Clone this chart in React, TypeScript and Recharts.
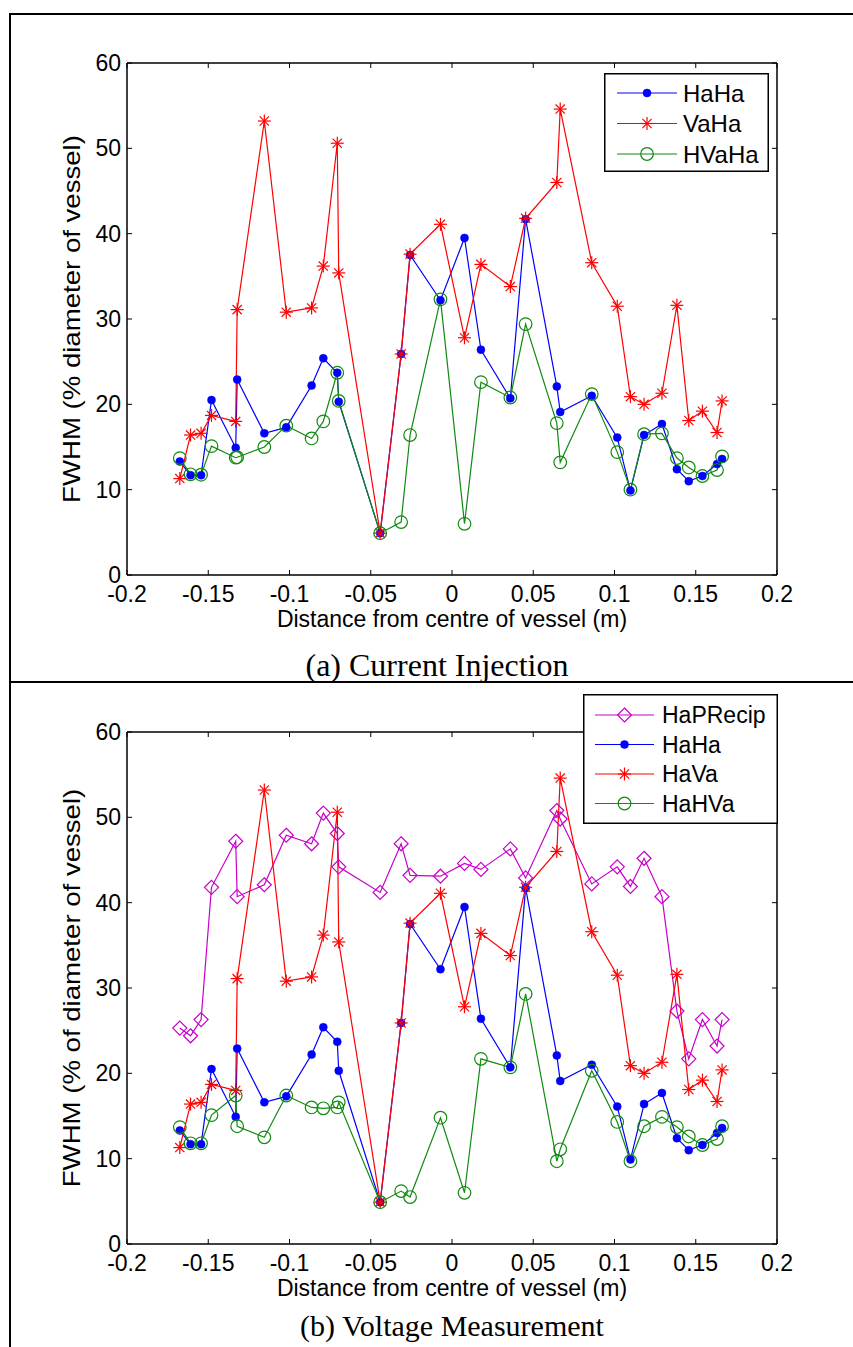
import React from 'react';
import { LineChart, Line, XAxis, YAxis, Legend } from 'recharts';

// electrode positions across the vessel (m)
const distance = [
  -0.1675, -0.1609, -0.1544, -0.148, -0.1331, -0.1322, -0.1155, -0.102, -0.0864, -0.0792, -0.0706,
  -0.0697, -0.0442, -0.0313, -0.0258, -0.0071, 0.0077, 0.0178, 0.0359, 0.0453, 0.0645, 0.0666, 0.086,
  0.1017, 0.1098, 0.1182, 0.1292, 0.1384, 0.1457, 0.1541, 0.1631, 0.1662,
];

// FWHM (% of vessel diameter) per reconstruction
const haHa = [
  13.3, 11.7, 11.7, 20.5, 14.9, 22.9, 16.6, 17.3, 22.2, 25.4, 23.7, 20.3, 4.9, 25.9, 37.5, 32.2,
  39.5, 26.4, 20.7, 41.7, 22.1, 19.1, 21.0, 16.1, 9.9, 16.4, 17.7, 12.4, 11.0, 11.6, 13.0, 13.6,
];
const vaHa = [
  11.3, 16.4, 16.6, 18.7, 18.0, 31.1, 53.2, 30.8, 31.3, 36.2, 50.6, 35.4, 4.9, 25.9, 37.6, 41.1,
  27.8, 36.4, 33.8, 41.8, 46.0, 54.6, 36.6, 31.5, 20.9, 20.0, 21.3, 31.6, 18.1, 19.2, 16.7, 20.4,
];
const hvaHa = [
  13.7, 11.8, 11.75, 15.1, 13.75, 13.8, 15.0, 17.5, 16.0, 18.0, 23.7, 20.4, 4.9, 6.2, 16.4, 32.3,
  6.0, 22.6, 20.8, 29.4, 17.8, 13.2, 21.2, 14.4, 10.0, 16.5, 16.6, 13.7, 12.6, 11.6, 12.3, 13.9,
];
const haPRecip = [
  25.3, 24.4, 26.3, 41.8, 47.2, 40.7, 42.1, 47.9, 46.9, 50.5, 48.1, 44.2, 41.2, 46.9, 43.2, 43.1,
  44.6, 43.9, 46.3, 42.9, 50.8, 49.8, 42.2, 44.2, 41.9, 45.2, 40.7, 27.3, 21.7, 26.3, 23.2, 26.3,
];
// HaHa / HaVa in panel (b) are the same measurements as HaHa / VaHa in (a)
const haVa = vaHa;
const haHVa = [
  13.7, 11.8, 11.8, 15.1, 17.4, 13.8, 12.5, 17.4, 16.0, 15.9, 16.0, 16.6, 4.9, 6.2, 5.5, 14.8,
  6.0, 21.7, 20.7, 29.3, 9.7, 11.1, 20.3, 14.3, 9.7, 13.8, 14.9, 13.7, 12.6, 11.6, 12.3, 13.8,
];

const xTicks = [-0.2, -0.15, -0.1, -0.05, 0, 0.05, 0.1, 0.15, 0.2];
const yTicks = [0, 10, 20, 30, 40, 50, 60];

const BLUE = '#0000ff';
const RED = '#ff0000';
const GREEN = '#108a10';
const MAGENTA = '#c800c8';
const SANS = '"Liberation Sans", Arial, Helvetica, sans-serif';
const SERIF = '"Liberation Serif", "Times New Roman", serif';
const FS = 23;
const TITLE_STRETCH = 1.2; // the exported y titles run long

type Pt = { cx: number; cy: number };

const Dot = ({ cx, cy }: Pt) => <circle cx={cx} cy={cy} r={4} fill={BLUE} stroke={BLUE} strokeWidth={0.5} />;
const Star = ({ cx, cy }: Pt) => {
  const a = 6.5;
  const b = 4.6;
  return (
    <g stroke={RED} strokeWidth={1.2}>
      <line x1={cx - a} y1={cy} x2={cx + a} y2={cy} />
      <line x1={cx} y1={cy - a} x2={cx} y2={cy + a} />
      <line x1={cx - b} y1={cy - b} x2={cx + b} y2={cy + b} />
      <line x1={cx - b} y1={cy + b} x2={cx + b} y2={cy - b} />
    </g>
  );
};
const Ring = ({ cx, cy }: Pt) => <circle cx={cx} cy={cy} r={6.3} fill="none" stroke={GREEN} strokeWidth={1.2} />;
const Diamond = ({ cx, cy }: Pt) => (
  <path
    d={`M${cx},${cy - 7} L${cx + 7},${cy} L${cx},${cy + 7} L${cx - 7},${cy} Z`}
    fill="none"
    stroke={MAGENTA}
    strokeWidth={1.2}
  />
);

type SeriesDef = { key: string; name: string; color: string; values: number[]; Marker: (p: Pt) => React.ReactElement };

const seriesA: SeriesDef[] = [
  { key: 'haHa', name: 'HaHa', color: BLUE, values: haHa, Marker: Dot },
  { key: 'vaHa', name: 'VaHa', color: RED, values: vaHa, Marker: Star },
  { key: 'hvaHa', name: 'HVaHa', color: GREEN, values: hvaHa, Marker: Ring },
];
const seriesB: SeriesDef[] = [
  { key: 'haPRecip', name: 'HaPRecip', color: MAGENTA, values: haPRecip, Marker: Diamond },
  { key: 'haHa', name: 'HaHa', color: BLUE, values: haHa, Marker: Dot },
  { key: 'haVa', name: 'HaVa', color: RED, values: haVa, Marker: Star },
  { key: 'haHVa', name: 'HaHVa', color: GREEN, values: haHVa, Marker: Ring },
];

type LegendBox = {
  left: number; top: number; width: number; height: number; fontSize: number;
  firstRow: number; rowGap: number; lineFrom: number; lineTo: number; textX: number;
};

const legendContent = (items: SeriesDef[], box: LegendBox) => () => (
  <svg width={box.width} height={box.height} style={{ display: 'block' }}>
    <rect x={0.75} y={0.75} width={box.width - 1.5} height={box.height - 1.5} fill="#fff" stroke="#000" strokeWidth={1.5} />
    {items.map((s, i) => {
      const y = box.firstRow + i * box.rowGap;
      const M = s.Marker;
      return (
        <g key={s.key}>
          <line x1={box.lineFrom} x2={box.lineTo} y1={y} y2={y} stroke={s.color} strokeWidth={1.2} />
          <M cx={(box.lineFrom + box.lineTo) / 2} cy={y} />
          <text x={box.textX} y={y} dominantBaseline="central" fontFamily={SANS} fontSize={box.fontSize} fill="#000">
            {s.name}
          </text>
        </g>
      );
    })}
  </svg>
);

const XTick = ({ x, y, payload }: any) => (
  <text x={x} y={y} dy="0.71em" textAnchor="middle" fontFamily={SANS} fontSize={FS} fill="#000">
    {String(payload.value)}
  </text>
);

// y title: centred on the plot's vertical middle, 72px in from the chart's left edge
const YTitle = ({ text, centreY }: { text: string; centreY: number }) => (
  <text
    transform={`translate(72,${centreY}) scale(1,${TITLE_STRETCH}) rotate(-90)`}
    textAnchor="middle"
    dominantBaseline="central"
    fontFamily={SANS}
    fontSize={FS}
    fill="#000"
  >
    {text}
  </text>
);

type PanelProps = {
  series: SeriesDef[];
  yLabel: string;
  top: number;
  height: number;
  marginTop: number;
  legend: LegendBox;
};

const PLOT_H = 512;

const Panel = ({ series, yLabel, top, height, marginTop, legend }: PanelProps) => {
  const rows = distance.map((x, i) => {
    const r: Record<string, number> = { x };
    series.forEach((s) => {
      r[s.key] = s.values[i];
    });
    return r;
  });
  const lineStyle = { stroke: '#000', strokeWidth: 1.5 };
  return (
    <div style={{ position: 'absolute', left: 0, top }}>
      <LineChart width={853} height={height} data={rows} margin={{ top: marginTop, right: 75, bottom: 29, left: 0 }}>
        <XAxis
          dataKey="x"
          type="number"
          domain={[-0.2, 0.2]}
          ticks={xTicks}
          interval={0}
          allowDataOverflow
          height={36}
          stroke="#000"
          axisLine={lineStyle}
          tickLine={{ stroke: '#000' }}
          tickSize={-5}
          tickMargin={16}
          tick={<XTick />}
          label={{ value: 'Distance from centre of vessel (m)', position: 'bottom', offset: 0, fill: '#000', fontSize: FS, fontFamily: SANS }}
        />
        <XAxis
          xAxisId="top"
          orientation="top"
          dataKey="x"
          type="number"
          domain={[-0.2, 0.2]}
          ticks={xTicks}
          interval={0}
          allowDataOverflow
          height={1}
          stroke="#000"
          axisLine={lineStyle}
          tickLine={{ stroke: '#000' }}
          tickSize={-5}
          tick={() => <g />}
        />
        <YAxis
          type="number"
          domain={[0, 60]}
          ticks={yTicks}
          interval={0}
          allowDataOverflow
          width={127}
          stroke="#000"
          axisLine={lineStyle}
          tickLine={{ stroke: '#000' }}
          tickSize={-5}
          tickMargin={11}
          tick={{ fill: '#000', fontSize: FS, fontFamily: SANS }}
          label={<YTitle text={yLabel} centreY={marginTop + 1 + PLOT_H / 2} />}
        />
        <YAxis
          yAxisId="right"
          orientation="right"
          type="number"
          domain={[0, 60]}
          ticks={yTicks}
          interval={0}
          allowDataOverflow
          width={1}
          stroke="#000"
          axisLine={lineStyle}
          tickLine={{ stroke: '#000' }}
          tickSize={-5}
          tick={() => <g />}
        />
        {series.map((s) => (
          <Line
            key={s.key}
            type="linear"
            dataKey={s.key}
            name={s.name}
            stroke={s.color}
            strokeWidth={1.2}
            dot={(p: any) => <s.Marker key={`${s.key}-${p.index}`} cx={p.cx} cy={p.cy} />}
            activeDot={false}
            isAnimationActive={false}
          />
        ))}
        <Legend
          layout="vertical"
          align="center"
          verticalAlign="middle"
          content={legendContent(series, legend)}
          wrapperStyle={{ left: legend.left, top: legend.top, width: legend.width, height: legend.height }}
        />
      </LineChart>
    </div>
  );
};

const rule = (left: number, top: number, width: number, height: number): React.CSSProperties => ({
  position: 'absolute',
  left,
  top,
  width,
  height,
  background: '#000',
});

const captionStyle = (top: number, centre: number, size: number): React.CSSProperties => ({
  position: 'absolute',
  left: centre - 250,
  width: 500,
  top,
  textAlign: 'center',
  fontFamily: SERIF,
  fontSize: size,
  lineHeight: `${size}px`,
  color: '#000',
  whiteSpace: 'nowrap',
});

export default function App() {
  return (
    <div style={{ position: 'absolute', left: 0, top: 0, width: 853, height: 1347, background: '#fff', overflow: 'hidden' }}>
      <Panel
        series={seriesA}
        yLabel="FWHM (% diameter of vessel)"
        top={0}
        height={640}
        marginTop={62}
        legend={{ left: 604, top: 73, width: 165, height: 99, fontSize: 24, firstRow: 20, rowGap: 30.5, lineFrom: 13, lineTo: 73, textX: 79 }}
      />
      <Panel
        series={seriesB}
        yLabel="FWHM (% of diameter of vessel)"
        top={685}
        height={624}
        marginTop={46}
        legend={{ left: 583, top: 9, width: 195, height: 130, fontSize: 23, firstRow: 21, rowGap: 29.5, lineFrom: 12, lineTo: 71, textX: 79 }}
      />
      <div style={captionStyle(649, 437, 32)}>(a) Current Injection</div>
      <div style={captionStyle(1311, 452, 30)}>(b) Voltage Measurement</div>
      <div style={rule(9, 13, 844, 2)} />
      <div style={rule(9, 13, 2, 1334)} />
      <div style={rule(9, 681, 844, 2)} />
    </div>
  );
}
